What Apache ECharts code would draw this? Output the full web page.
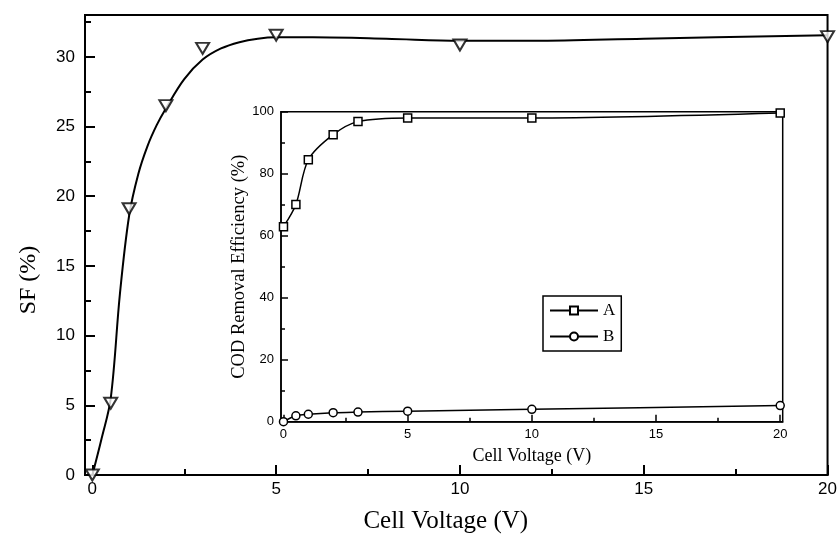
<!DOCTYPE html>
<html><head><meta charset="utf-8">
<script src="https://cdn.jsdelivr.net/npm/echarts@6/dist/echarts.min.js"></script>
<style>html,body{margin:0;padding:0;background:#fff}#c{width:840px;height:541px}</style>
</head><body><div id="c"></div>
<script>
// Main chart: SF vs cell voltage
const sfVoltage = [0, 0.5, 1, 2, 3, 5, 10, 20];
const sfValues = [0, 5.15, 19.1, 26.5, 30.6, 31.55, 30.85, 31.45];
// Fitted curve
const sfFitVoltage = [0, 0.25, 0.5, 0.75, 1, 1.25, 1.5, 1.75, 2, 2.5, 3, 3.5, 4, 4.5, 5, 6, 8, 10, 12, 15, 20];
const sfFitValues  = [0, 2.6, 5.5, 13.0, 18.6, 21.6, 23.6, 25.1, 26.3, 28.4, 29.8, 30.6, 31.05, 31.3, 31.4, 31.4, 31.3, 31.15, 31.15, 31.3, 31.55];
// Inset: COD removal efficiency
const codVoltage = [0, 0.5, 1, 2, 3, 5, 10, 20];
const codA = [62.9, 70.1, 84.5, 92.6, 96.8, 98.0, 98.0, 99.6];
const codB = [0, 1.9, 2.4, 2.9, 3.1, 3.4, 4.0, 5.2];
const seriesNames = ['A', 'B'];
// Tick values
const mainXTicks = [0, 5, 10, 15, 20];
const mainXMinor = [2.5, 7.5, 12.5, 17.5];
const mainYTicks = [0, 5, 10, 15, 20, 25, 30];
const mainYMinor = [2.5, 7.5, 12.5, 17.5, 22.5, 27.5, 32.5];
const insetXTicks = [0, 5, 10, 15, 20];
const insetXMinor = [2.5, 7.5, 12.5, 17.5];
const insetYTicks = [0, 20, 40, 60, 80, 100];
const insetYMinor = [10, 30, 50, 70, 90];

const SERIF = '"Liberation Serif","Times New Roman",serif';
const SANS = '"Liberation Sans",Arial,Helvetica,sans-serif';
const zip = (xs, ys) => xs.map((x, i) => [x, ys[i]]);

function labelAxis(o) {
  return Object.assign({
    type: 'value',
    axisLine: { show: true, onZero: false, lineStyle: { color: '#000', width: o.lw } },
    axisTick: { show: false },
    axisLabel: { show: true, customValues: o.ticks, margin: o.margin, color: '#000', fontFamily: SANS, fontSize: o.fs },
    splitLine: { show: false },
    nameTextStyle: { color: '#000', fontFamily: SERIF, fontSize: o.nfs, padding: o.npad || 0 },
    nameLocation: 'middle',
    nameMoveOverlap: false
  }, o.extra);
}
function tickAxis(o) {
  return Object.assign({
    type: 'value',
    axisLine: { show: false, onZero: false },
    axisTick: { show: true, inside: true, length: o.tl, customValues: o.ticks, lineStyle: { color: '#000', width: o.lw } },
    axisLabel: { show: false },
    splitLine: { show: false }
  }, o.extra);
}

const mX = { gridIndex: 0, min: -0.2, max: 20, position: 'bottom' };
const mY = { gridIndex: 0, min: 0, max: 33, position: 'left' };
const iX = { gridIndex: 1, min: -0.1, max: 20.1, position: 'bottom', z: 6 };
const iY = { gridIndex: 1, min: 0, max: 100, position: 'left', z: 6 };

const chart = echarts.init(document.getElementById('c'), null, { renderer: 'canvas' });
chart.setOption({
  animation: false,
  backgroundColor: '#fff',
  grid: [
    { left: 85, top: 15, width: 743, height: 460, show: true, borderColor: '#000', borderWidth: 2, backgroundColor: 'transparent' },
    { left: 281, top: 111.7, width: 501.7, height: 310, show: true, borderColor: '#000', borderWidth: 1.5, backgroundColor: '#fff', z: 5 }
  ],
  xAxis: [
    labelAxis({ lw: 2, ticks: mainXTicks, margin: 6, fs: 17, nfs: 25, npad: [0, 21, 0, 0],
      extra: Object.assign({ name: 'Cell Voltage (V)', nameGap: 34 }, mX) }),
    tickAxis({ lw: 2, tl: 10, ticks: mainXTicks, extra: mX }),
    tickAxis({ lw: 2, tl: 6, ticks: mainXMinor, extra: mX }),
    labelAxis({ lw: 1.5, ticks: insetXTicks, margin: 6, fs: 13, nfs: 18,
      extra: Object.assign({ name: 'Cell Voltage (V)', nameGap: 26 }, iX) }),
    tickAxis({ lw: 1.5, tl: 7, ticks: insetXTicks, extra: iX }),
    tickAxis({ lw: 1.5, tl: 4, ticks: insetXMinor, extra: iX })
  ],
  yAxis: [
    labelAxis({ lw: 2, ticks: mainYTicks, margin: 10, fs: 17, nfs: 24, npad: [0, 70, 0, 0],
      extra: Object.assign({ name: 'SF (%)', nameGap: 44 }, mY) }),
    tickAxis({ lw: 2, tl: 10, ticks: mainYTicks, extra: mY }),
    tickAxis({ lw: 2, tl: 6, ticks: mainYMinor, extra: mY }),
    labelAxis({ lw: 1.5, ticks: insetYTicks, margin: 7, fs: 13, nfs: 18.5,
      extra: Object.assign({ name: 'COD Removal Efficiency (%)', nameGap: 32 }, iY) }),
    tickAxis({ lw: 1.5, tl: 7, ticks: insetYTicks, extra: iY }),
    tickAxis({ lw: 1.5, tl: 4, ticks: insetYMinor, extra: iY })
  ],
  legend: {
    data: seriesNames,
    orient: 'vertical',
    left: 543, top: 296,
    backgroundColor: '#fff',
    borderColor: '#000', borderWidth: 1.5, borderRadius: 0,
    padding: [6, 6, 6, 6],
    itemWidth: 48, itemHeight: 10, itemGap: 9,
    textStyle: { color: '#000', fontFamily: SERIF, fontSize: 17 },
    selectedMode: false,
    z: 10
  },
  series: [
    { type: 'line', xAxisIndex: 0, yAxisIndex: 0, data: zip(sfFitVoltage, sfFitValues),
      smooth: 0.35, showSymbol: false, symbol: 'none',
      lineStyle: { color: '#000', width: 2 }, silent: true, z: 2 },
    { type: 'scatter', xAxisIndex: 0, yAxisIndex: 0, data: zip(sfVoltage, sfValues),
      symbol: 'triangle', symbolRotate: 180, symbolSize: [13, 11],
      itemStyle: { color: '#fff', borderColor: '#000', borderWidth: 2 }, z: 3 },
    { type: 'line', name: seriesNames[0], xAxisIndex: 3, yAxisIndex: 3, data: zip(codVoltage, codA),
      smooth: 0.3, symbol: 'rect', symbolSize: 8, showAllSymbol: true,
      itemStyle: { color: '#fff', borderColor: '#000', borderWidth: 1.5 },
      lineStyle: { color: '#000', width: 1.5 }, z: 7 },
    { type: 'line', name: seriesNames[1], xAxisIndex: 3, yAxisIndex: 3, data: zip(codVoltage, codB),
      smooth: 0.3, symbol: 'circle', symbolSize: 8, showAllSymbol: true,
      itemStyle: { color: '#fff', borderColor: '#000', borderWidth: 1.5 },
      lineStyle: { color: '#000', width: 1.5 }, z: 7 }
  ]
});
</script></body></html>
